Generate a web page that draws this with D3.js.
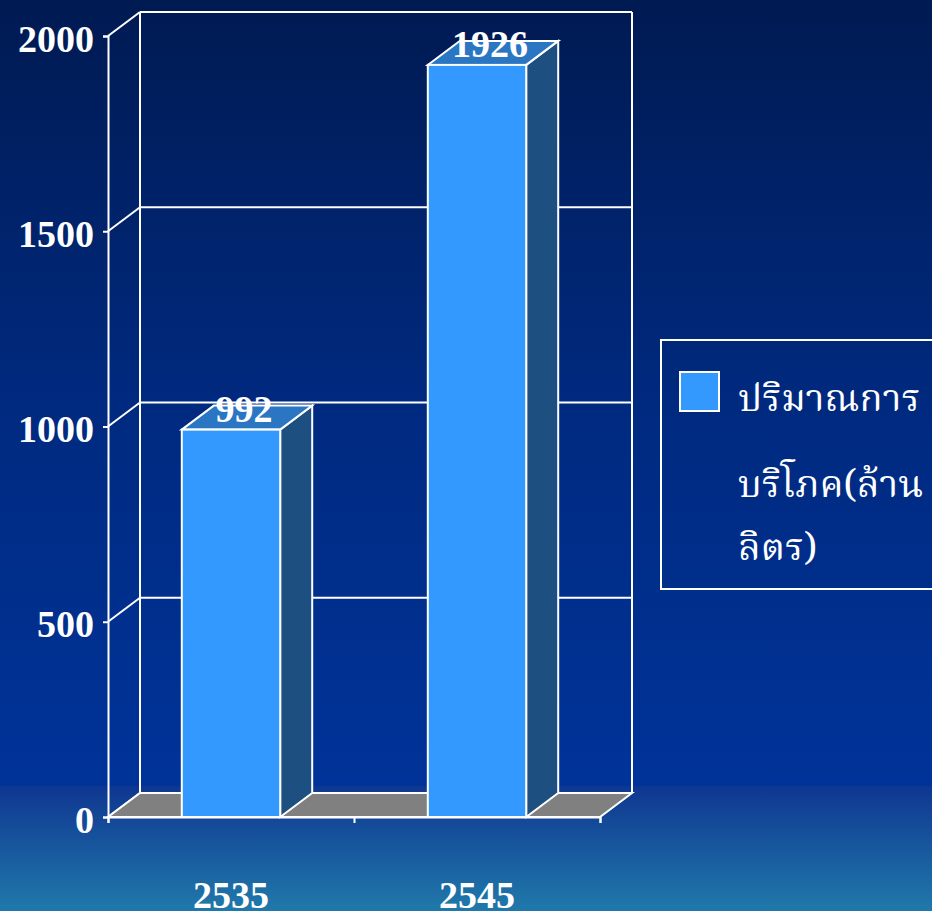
<!DOCTYPE html>
<html>
<head>
<meta charset="utf-8">
<script src="https://cdn.jsdelivr.net/npm/d3@7"></script>
<style>
	html, body { margin: 0; padding: 0; background: #001b55; }
	svg { display: block; }
	.num { font-family: "Liberation Serif", "Times New Roman", serif; font-weight: bold; fill: #fff; }
	.thai { font-family: "Noto Serif Thai", "Noto Sans Thai Looped", "Noto Sans Thai", "Liberation Serif", serif; fill: #fff; }
</style>
</head>
<body>
<div id="chart"></div>
<script>
const categories = ['2535', '2545'];
const values = [992, 1926];
const yTicks = [0, 500, 1000, 1500, 2000];
const legendLines = ['ปริมาณการ', 'บริโภค(ล้าน', 'ลิตร)'];

const width = 932, height = 911;
const DX = 32, DY = -24; // depth of the 3d box

const svg = d3.select('#chart').append('svg')
	.attr('width', width)
	.attr('height', height);

// background
const defs = svg.append('defs');
const grad = defs.append('linearGradient')
	.attr('id', 'bg')
	.attr('x1', 0).attr('y1', 0).attr('x2', 0).attr('y2', 1);
[
	[0, '#001a52'], [0.45, '#002a80'], [0.862, '#003399'],
	[0.864, '#0f3791'], [1, '#2079aa']
].forEach(([o, c]) => grad.append('stop').attr('offset', o).attr('stop-color', c));
svg.append('rect').attr('width', width).attr('height', height).attr('fill', 'url(#bg)');

const x = d3.scaleBand()
	.domain(categories)
	.range([108, 600])
	.paddingInner(0.6)
	.paddingOuter(0.3);
const xEdge = d3.scaleLinear().domain([0, categories.length]).range([108, 600]);
const y = d3.scaleLinear()
	.domain([0, 2000])
	.range([817, 36]);

const g = svg.append('g');
const line = (x1, y1, x2, y2) => g.append('line')
	.attr('x1', x1).attr('y1', y1).attr('x2', x2).attr('y2', y2)
	.attr('stroke', '#fff').attr('stroke-width', 2);

// back wall + left wall
yTicks.forEach(v => {
	if (v > 0) line(xEdge(0) + DX, y(v) + DY, xEdge(2) + DX, y(v) + DY);
	line(xEdge(0), y(v), xEdge(0) + DX, y(v) + DY);
});
line(xEdge(0) + DX, y(0) + DY, xEdge(0) + DX, y(2000) + DY);
line(xEdge(2) + DX, y(0) + DY, xEdge(2) + DX, y(2000) + DY);

// floor
g.append('path')
	.attr('d', d3.line()([
		[xEdge(0), y(0)], [xEdge(2), y(0)],
		[xEdge(2) + DX, y(0) + DY], [xEdge(0) + DX, y(0) + DY]
	]) + 'Z')
	.attr('fill', '#808080')
	.attr('stroke', '#fff').attr('stroke-width', 2);

// y axis
g.append('g')
	.attr('transform', `translate(${xEdge(0)},0)`)
	.call(d3.axisLeft(y).tickValues(yTicks).tickSize(5).tickFormat(d3.format('d')))
	.call(a => a.selectAll('path, line').attr('stroke', '#fff').attr('stroke-width', 2))
	.call(a => a.selectAll('text')
		.attr('class', 'num')
		.attr('font-size', 38)
		.attr('x', -14)
		.attr('dy', '0.4em'));

// x axis ticks
g.append('g')
	.attr('transform', `translate(0,${y(0)})`)
	.call(d3.axisBottom(xEdge).tickValues([0, 1, 2]).tickSize(6).tickFormat(''))
	.call(a => a.selectAll('path, line').attr('stroke', '#fff').attr('stroke-width', 2));

// bars
const bars = g.selectAll('.bar').data(values).join('g').attr('class', 'bar');
const bw = x.bandwidth();
bars.append('path') // side
	.attr('d', (d, i) => {
		const x1 = x(categories[i]) + bw;
		return d3.line()([[x1, y(0)], [x1 + DX, y(0) + DY], [x1 + DX, y(d) + DY], [x1, y(d)]]) + 'Z';
	})
	.attr('fill', '#1d4f80').attr('stroke', '#fff').attr('stroke-width', 2);
bars.append('path') // top
	.attr('d', (d, i) => {
		const x0 = x(categories[i]);
		return d3.line()([[x0, y(d)], [x0 + bw, y(d)], [x0 + bw + DX, y(d) + DY], [x0 + DX, y(d) + DY]]) + 'Z';
	})
	.attr('fill', '#2a76c2').attr('stroke', '#fff').attr('stroke-width', 2);
bars.append('rect') // front
	.attr('x', (d, i) => x(categories[i]))
	.attr('y', d => y(d))
	.attr('width', bw)
	.attr('height', d => y(0) - y(d))
	.attr('fill', '#3399ff').attr('stroke', '#fff').attr('stroke-width', 2);
bars.append('text')
	.attr('class', 'num')
	.attr('font-size', 38)
	.attr('text-anchor', 'middle')
	.attr('x', (d, i) => x(categories[i]) + bw / 2 + DX / 2 - 3)
	.attr('y', d => y(d) + DY / 2 + 4)
	.text(d => d);

// category labels
g.selectAll('.cat').data(categories).join('text')
	.attr('class', 'num cat')
	.attr('font-size', 38)
	.attr('text-anchor', 'middle')
	.attr('x', d => x(d) + bw / 2)
	.attr('y', 908)
	.text(d => d);

// legend
const lg = svg.append('g');
lg.append('rect')
	.attr('x', 661).attr('y', 340).attr('width', 300).attr('height', 249)
	.attr('fill', 'none').attr('stroke', '#fff').attr('stroke-width', 2);
lg.append('rect')
	.attr('x', 680).attr('y', 372).attr('width', 39).attr('height', 39)
	.attr('fill', '#3399ff').attr('stroke', '#fff').attr('stroke-width', 2);
const legendY = [411, 497, 560];
lg.selectAll('.thai').data(legendLines).join('text')
	.attr('class', 'thai')
	.attr('font-size', 38)
	.attr('x', 738)
	.attr('y', (d, i) => legendY[i])
	.text(d => d);
</script>
</body>
</html>
